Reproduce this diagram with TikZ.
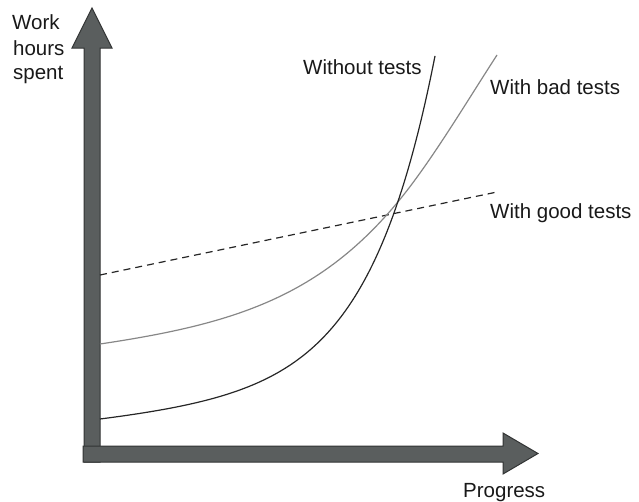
\documentclass[tikz,border=0pt]{standalone}
\usepackage{fontspec}
\setmainfont{Liberation Sans}
\definecolor{arrowfill}{RGB}{90,94,94}
\definecolor{arrowline}{RGB}{50,52,52}
\definecolor{badgray}{RGB}{135,135,135}
\begin{document}
\begin{tikzpicture}[x=1pt,y=-1pt,
  axisarrow/.style={fill=arrowfill,draw=arrowline,line width=1pt,line join=miter},
  lbl/.style={anchor=base west,inner sep=0pt,font=\fontsize{20.5}{24.5}\selectfont,text=black!90},
  curve/.style={line width=1.2pt}]
\useasboundingbox (0,0) rectangle (639,501);
% vertical axis arrow
\draw[axisarrow] (84,462) -- (84,48) -- (72,48) -- (92,8) -- (112,48) -- (100,48) -- (100,462) -- cycle;
% horizontal axis arrow
\draw[axisarrow] (83,446) -- (503,446) -- (503,433) -- (538,453.5) -- (503,474) -- (503,462) -- (83,462) -- cycle;
% good tests
\coordinate (g0) at (100,275);
\coordinate (g1) at (497,192);
\draw[curve,black!85,dash pattern=on 7pt off 5pt] (g0) -- (g1);
% bad tests
\coordinate (b0) at (100,344);
\coordinate (b1) at (397,203);
\coordinate (b2) at (497,55);
\draw[curve,badgray] (b0) .. controls (230,324.5) and (317,299) .. (b1)
  .. controls (430,163.4) and (464,106) .. (b2);
% without tests
\draw[curve,black!85] plot[domain=100:435,samples=160,variable=\t]
  ({\t},{419-(2.19*(exp(0.015*(\t-100))-1)+0.0958*(\t-100))});
% labels
\node[lbl] (work) at (12,29) {Work};
\node[lbl] (hours) at (13,55) {hours};
\node[lbl] (spent) at (13,79) {spent};
\node[lbl] (without) at (303,74) {Without tests};
\node[lbl] (bad) at (490,94) {With bad tests};
\node[lbl] (good) at (490,218) {With good tests};
\node[lbl] (progress) at (463,497) {Progress};
\end{tikzpicture}
\end{document}
